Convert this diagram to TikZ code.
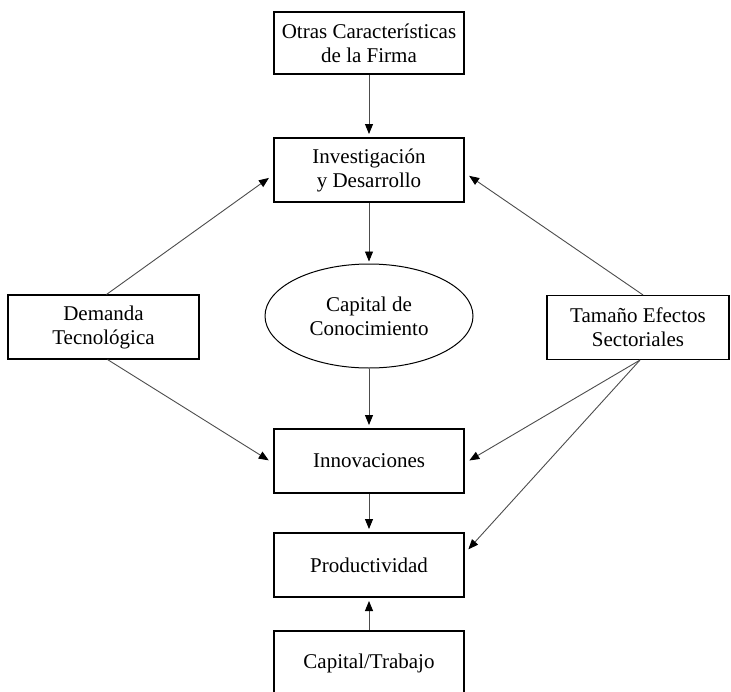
\documentclass[tikz,border=0pt]{standalone}
\usepackage{fontspec}
\setmainfont{Liberation Serif}
\usetikzlibrary{arrows.meta,shapes.geometric}
\begin{document}
\begin{tikzpicture}[x=1pt,y=-1pt,
  every node/.style={font=\fontsize{21}{24}\selectfont, align=center, inner sep=0pt},
  mainbox/.style={draw, line width=2pt, minimum width=190pt, minimum height=62pt},
  sidebox/.style={draw, line width=1.1pt, minimum height=64pt},
  oval/.style={draw, ellipse, line width=1pt, minimum width=208pt, minimum height=104pt},
  conn/.style={draw=black!70, line width=0.9pt, -{Triangle[length=10pt,width=8pt,color=black]}}
]
\useasboundingbox (0,0) rectangle (731,691);
\node[mainbox] (otras) at (369,43) {Otras Características\\de la Firma};
\node[mainbox, minimum height=64pt] (inv) at (369,170) {Investigación\\y Desarrollo};
\node[oval] (cap) at (369,316) {Capital de\\Conocimiento};
\node[mainbox, minimum height=64pt] (inn) at (369,461) {Innovaciones};
\node[mainbox, minimum height=64pt] (prod) at (369,565) {Productividad};
\node[mainbox, minimum height=64pt] (ct) at (369,663) {Capital/Trabajo};
\node[sidebox, minimum width=191pt] (dem) at (103.5,327) {Demanda\\Tecnológica};
\node[sidebox, minimum width=182pt] (tam) at (638,327.5) {Tamaño Efectos\\Sectoriales};

\draw[conn, shorten >=3pt] (otras.south) -- (inv.north);
\draw[conn, shorten >=2pt] (inv.south) -- (cap.north);
\draw[conn, shorten >=3pt] (cap.south) -- (inn.north);
\draw[conn, shorten >=3pt] (inn.south) -- (prod.north);
\draw[conn, shorten >=3pt] (ct.north) -- (prod.south);
\draw[conn, shorten >=5pt] ([xshift=3pt]dem.north) -- ([yshift=-5pt]inv.west);
\draw[conn, shorten >=5pt] ([xshift=4pt]dem.south) -- ([yshift=-2pt]inn.west);
\draw[conn, shorten >=5pt] ([xshift=5pt]tam.north) -- ([yshift=-3pt]inv.east);
\draw[conn, shorten >=5pt] ([xshift=2pt]tam.south) -- ([yshift=-2pt]inn.east);
\draw[conn, shorten >=5pt] ([xshift=2pt]tam.south) -- ([yshift=12pt]prod.east);
\end{tikzpicture}
\end{document}
